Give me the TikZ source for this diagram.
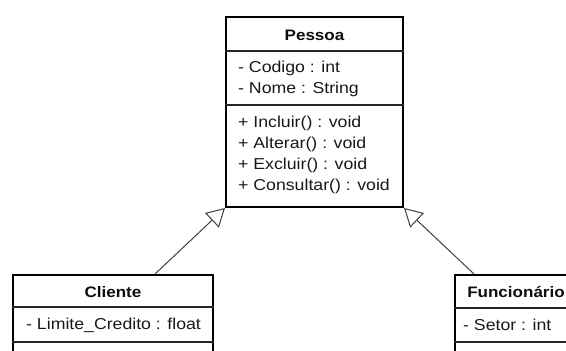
\documentclass[tikz,border=0pt]{standalone}
\usepackage{fontspec}
\setmainfont{Liberation Sans}[FakeStretch=1.12]
\usetikzlibrary{arrows.meta}
\begin{document}
\begin{tikzpicture}[x=1pt,y=1pt,
  umlbox/.style={draw=black, line width=2pt, fill=white, inner sep=0pt, anchor=north west},
  sepline/.style={draw=black!85, line width=1.3pt},
  title/.style={font=\fontsize{15.2}{18}\selectfont\bfseries, text=black!95, inner sep=0pt},
  member/.style={font=\fontsize{15.8}{18}\selectfont, text=black!90, inner sep=0pt, anchor=west},
  inherit/.style={draw=black!75, line width=1pt,
    -{Triangle[open, length=18pt, width=20pt, fill=white]}}
]
\useasboundingbox (0,0) rectangle (566,351);
\clip (0,0) rectangle (566,351);

% superclass
\node[umlbox, minimum width=177pt, minimum height=190pt] (pessoa) at (225,335) {};
\draw[sepline] ([yshift=-35pt]pessoa.north west) -- ([yshift=-35pt]pessoa.north east);
\draw[sepline] ([yshift=-89pt]pessoa.north west) -- ([yshift=-89pt]pessoa.north east);
\node[title] (pessoaT) at ([yshift=-19pt]pessoa.north) {Pessoa};
\node[member] (p1) at (238,283) {- Codigo : int};
\node[member] (p2) at (238,262) {- Nome : String};
\node[member] (p3) at (238,228) {+ Incluir() : void};
\node[member] (p4) at (238,207) {+ Alterar() : void};
\node[member] (p5) at (238,186) {+ Excluir() : void};
\node[member] (p6) at (238,165) {+ Consultar() : void};

% subclass Cliente
\node[umlbox, minimum width=200pt, minimum height=110pt] (cliente) at (12,77) {};
\draw[sepline] ([yshift=-33pt]cliente.north west) -- ([yshift=-33pt]cliente.north east);
\draw[sepline] ([yshift=-68pt]cliente.north west) -- ([yshift=-68pt]cliente.north east);
\node[title] (clienteT) at ([yshift=-18pt]cliente.north) {Cliente};
\node[member] (c1) at (26,26) {- Limite\_Credito : float};

% subclass Funcionário
\node[umlbox, minimum width=122pt, minimum height=110pt] (func) at (454,77) {};
\draw[sepline] ([yshift=-34pt]func.north west) -- ([yshift=-34pt]func.north east);
\draw[sepline] ([yshift=-68pt]func.north west) -- ([yshift=-68pt]func.north east);
\node[title] (funcT) at ([yshift=-18pt]func.north) {Funcionário};
\node[member] (f1) at (463,26) {- Setor : int};

% generalisation arrows
\draw[inherit] ([xshift=42pt]cliente.north) -- (pessoa.south west);
\draw[inherit] ([xshift=-42pt]func.north) -- (pessoa.south east);
\end{tikzpicture}
\end{document}
